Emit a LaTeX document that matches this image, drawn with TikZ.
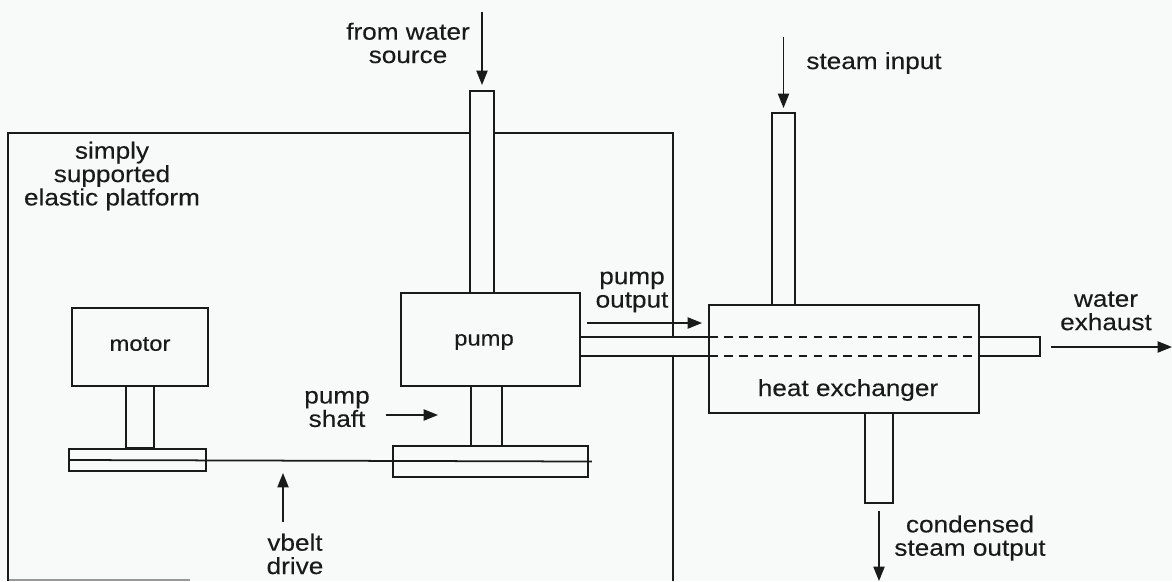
\documentclass[tikz,border=0pt]{standalone}
\usepackage{fontspec}
\setmainfont[FakeStretch=1.12,FakeBold=0.2]{Liberation Sans}
\usetikzlibrary{arrows.meta}
\definecolor{paper}{HTML}{F8F9F9}
\definecolor{ink}{HTML}{1A1A1A}
\newcommand{\lblfont}{\fontsize{13.3}{13.3}\selectfont\lineskiplimit -6pt\relax}
\newcommand{\boxfont}{\fontsize{12.1}{13.3}\selectfont}
\tikzset{
  >={Triangle[length=8.2pt,width=6.4pt]},
  part/.style={draw=ink,line width=1pt,minimum width=#1,inner sep=0pt,outer sep=0pt},
  lbl/.style={text=ink,font=\lblfont,align=center,inner sep=0pt},
  line/.style={draw=ink,line width=1pt},
  flow/.style={draw=ink,line width=0.8pt,->}
}
\begin{document}
\begin{tikzpicture}[x=0.02cm,y=-0.02cm]
          \path[use as bounding box,fill=paper] (0,0) rectangle (1172,581);
          % machines
          \node[part=2.72cm,minimum height=1.56cm] (M) at (140,347) {};
          \node[part=3.58cm,minimum height=1.86cm] (P) at (490.5,339.5) {};
          \node[part=5.4cm,minimum height=2.16cm] (H) at (844,359) {};
          % shafts and pulleys
          \node[part=0.57cm,minimum height=1.24cm] (MS) at (140,417) {};
          \node[part=0.62cm,minimum height=1.2cm] (PS) at (486.5,416) {};
          \node[part=2.74cm,minimum height=0.44cm] (MP) at (137.5,460) {};
          \node[part=3.9cm,minimum height=0.62cm] (PP) at (490.5,461.5) {};
          % pipes
          \node[part=0.48cm,minimum height=4.04cm] (IN) at (482,192) {};
          \node[part=0.46cm,minimum height=3.84cm] (ST) at (783.5,209) {};
          \node[part=0.57cm,minimum height=1.8cm] (CO) at (879,458) {};
          \coordinate (T0) at (580,337);
          \coordinate (B0) at (580,356);
          \coordinate (T1) at (1040,337);
          \coordinate (B1) at (1040,356);
          \draw[line] (T0) -- (T0 -| H.west);
          \draw[line] (B0) -- (B0 -| H.west);
          \draw[line,dash pattern=on 5pt off 3.5pt] (T0 -| H.west) -- (T0 -| H.east);
          \draw[line,dash pattern=on 5pt off 3.5pt] (B0 -| H.west) -- (B0 -| H.east);
          \draw[line] (T0 -| H.east) -- (T1) -- (B1) -- (B0 -| H.east);
          % platform
          \coordinate (FA) at (8,581);
          \coordinate (FB) at (8,133);
          \coordinate (FC) at (673,133);
          \coordinate (FD) at (673,581);
          \coordinate (FE) at (190,580);
          \draw[line,draw=ink!45] (FE) -- (FE -| FA);
          \draw[line] (FA) -- (FB) -- (FB -| IN.west);
          \draw[line] (FB -| IN.east) -- (FC) -- (FC |- T0);
          \draw[line] (FC |- B0) -- (FD);
          % belt
          \draw[line,shorten >=-0.08cm] (MP.west) -- (PP.east);
          % labels
          \node[lbl,font=\boxfont] (LM) at (140,344) {motor};
          \node[lbl,font=\boxfont] (LP) at (484,342) {pump};
          \node[lbl] (LF) at (408,43) {from water\\source};
          \node[lbl] (LS) at (874,63) {steam input};
          \node[lbl] (LE) at (112,176) {simply\\supported\\elastic platform};
          \node[lbl] (LO) at (632,292) {pump\\output};
          \node[lbl] (LW) at (1106,311) {water\\exhaust};
          \node[lbl] (LH) at (848,390) {heat exchanger};
          \node[lbl] (LA) at (337,409) {pump\\shaft};
          \node[lbl] (LV) at (295,554) {vbelt\\drive};
          \node[lbl] (LC) at (970,538) {condensed\\steam output};
          % arrows
          \coordinate (A1) at (482,12);
          \coordinate (A2) at (783.5,37);
          \coordinate (A3) at (386,415);
          \coordinate (A4) at (283,522);
          \coordinate (A4e) at (283,473);
          \coordinate (A5) at (587,323);
          \coordinate (A6) at (1051,347);
          \coordinate (A6e) at (1172,347);
          \coordinate (A7) at (879,511);
          \coordinate (A7e) at (879,581);
          \draw[flow,shorten >=0.12cm] (A1) -- (IN.north);
          \draw[flow,shorten >=0.1cm] (A2) -- (ST.north);
          \draw[flow,shorten >=0.66cm] (A3) -- (A3 -| PS.west);
          \draw[flow] (A4) -- (A4e);
          \draw[flow,shorten >=0.14cm] (A5) -- (A5 -| H.west);
          \draw[flow] (A6) -- (A6e);
          \draw[flow] (A7) -- (A7e);
\end{tikzpicture}
\end{document}
